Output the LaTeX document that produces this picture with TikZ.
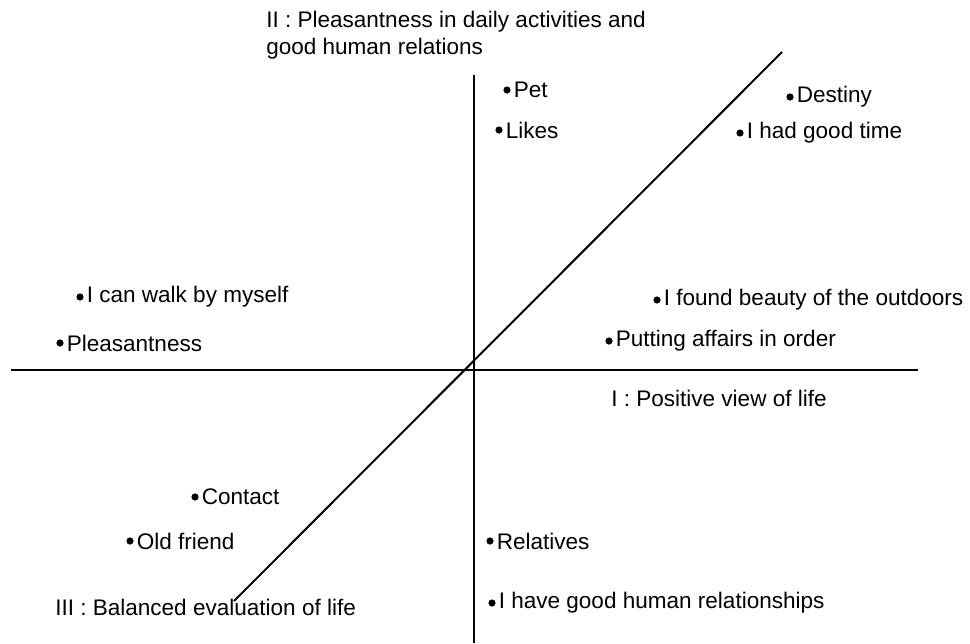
\documentclass[tikz,border=0pt]{standalone}
\usepackage{fontspec}
\setmainfont{Liberation Sans}
\usepackage{tikz}
\usetikzlibrary{positioning}

\begin{document}
\begin{tikzpicture}[
  x=0.75pt, y=-0.75pt,
  pt/.style={circle, fill=black, inner sep=0pt, minimum size=5.4pt},
  lbl/.style={font=\fontsize{16.9}{20.3}\selectfont, inner sep=2pt},
  ax/.style={line width=1.5pt, black},
  axlbl/.style={font=\fontsize{16.9}{20.3}\selectfont, inner sep=0pt, align=left}
]
  \useasboundingbox (0,0) rectangle (970,643);
  \coordinate (hl) at (11,370);
  \coordinate (hr) at (918,370);
  \coordinate (vt) at (474,75);
  \coordinate (vb) at (474,643);
  \coordinate (dl) at (234,601);
  \coordinate (du) at (782,52);
  \draw[ax] (hl) -- (hr);
  \draw[ax] (vt) -- (vb);
  \draw[ax] (dl) -- (du);
  \node[axlbl, anchor=north west] (ax2) at (266,11) {II : Pleasantness in daily activities and\\good human relations};
  \node[axlbl, anchor=west] (ax1) at (611,398) {I : Positive view of life};
  \node[axlbl, anchor=west] (ax3) at (55,607) {III : Balanced evaluation of life};
  \node[pt, label={[lbl]right:Pet}] (pet) at (507,90) {};
  \node[pt, label={[lbl]right:Likes}] (likes) at (499,130) {};
  \node[pt, label={[lbl]right:Destiny}] (destiny) at (790,97) {};
  \node[pt, label={[lbl]right:I had good time}] (goodtime) at (740,133) {};
  \node[pt, label={[lbl]right:I can walk by myself}] (walk) at (80,297) {};
  \node[pt, label={[lbl]right:Pleasantness}] (pleas) at (60,343) {};
  \node[pt, label={[lbl]right:I found beauty of the outdoors}] (beauty) at (657,300) {};
  \node[pt, label={[lbl]right:Putting affairs in order}] (affairs) at (609,341) {};
  \node[pt, label={[lbl]right:Contact}] (contact) at (195,497) {};
  \node[pt, label={[lbl]right:Old friend}] (oldfriend) at (130,541) {};
  \node[pt, label={[lbl]right:Relatives}] (relatives) at (490,541) {};
  \node[pt, label={[lbl]right:I have good human relationships}] (humanrel) at (492,603) {};
\end{tikzpicture}
\end{document}
